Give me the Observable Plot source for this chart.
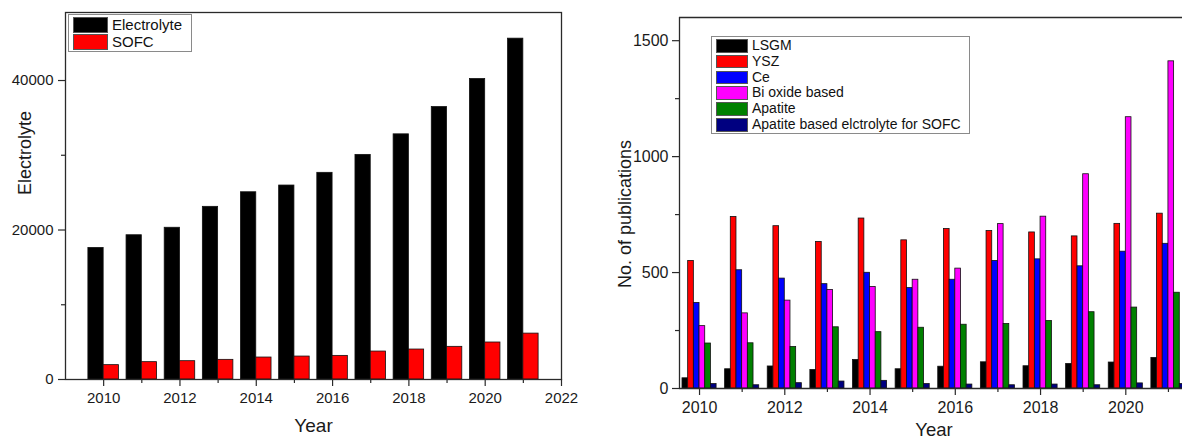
<!DOCTYPE html>
<html>
<head>
<meta charset="utf-8">
<script src="https://cdn.jsdelivr.net/npm/d3@7"></script>
<script src="https://cdn.jsdelivr.net/npm/@observablehq/plot@0.6"></script>
<style>
  html, body { margin: 0; padding: 0; background: #fff; }
  #wrap { position: relative; width: 1182px; height: 441px; overflow: hidden; background: #fff;
          font-family: "Liberation Sans", Arial, sans-serif; color: #111; }
  #left, #right { position: absolute; top: 0; }
  #left { left: 0; }
  #right { left: 600px; }
  .legend { position: absolute; border: 1px solid #8a8a8a; background: #fff; box-sizing: border-box; }
  .legend .row { position: absolute; display: flex; align-items: center; }
  .legend .sw { box-sizing: border-box; border: 1px solid #555; }
  .legend .lab { white-space: nowrap; color: #111; }
</style>
</head>
<body>
<div id="wrap">
  <div id="left"></div>
  <div id="right"></div>
</div>
<script>
// ---------- data ----------
const years = [2010, 2011, 2012, 2013, 2014, 2015, 2016, 2017, 2018, 2019, 2020, 2021];

// left panel
const leftSeries = ["Electrolyte", "SOFC"];
const leftColors = ["#000000", "#ff0000"];
const electrolyte = [17600, 19300, 20300, 23100, 25050, 25950, 27650, 30050, 32800, 36450, 40200, 45600];
const sofc = [1920, 2320, 2450, 2630, 2940, 3070, 3160, 3740, 4010, 4370, 4950, 6140];
const leftYTicks = [0, 20000, 40000];
const leftYMinor = [10000, 30000];
const leftXTicks = [2010, 2012, 2014, 2016, 2018, 2020, 2022];
const leftXMinor = [2011, 2013, 2015, 2017, 2019, 2021];
const leftXDomain = [2009, 2022];
const leftYDomain = [0, 49100];

// right panel
const rightSeries = ["LSGM", "YSZ", "Ce", "Bi oxide based", "Apatite", "Apatite based elctrolyte for SOFC"];
const rightColors = ["#000000", "#ff0000", "#0000ff", "#ff00ff", "#008000", "#000080"];
const lsgm = [44, 83, 95, 80, 123, 83, 94, 113, 96, 106, 112, 132];
const ysz = [550, 740, 700, 632, 733, 639, 688, 679, 673, 656, 710, 754];
const ce = [369, 510, 474, 450, 499, 433, 469, 550, 557, 527, 590, 624];
const bi = [269, 324, 379, 425, 438, 469, 517, 709, 741, 924, 1170, 1411];
const apatite = [194, 195, 179, 264, 243, 262, 275, 278, 291, 329, 349, 413];
const apatiteSofc = [19, 14, 23, 30, 33, 19, 17, 14, 17, 14, 22, 19];
const rightYTicks = [0, 500, 1000, 1500];
const rightYMinor = [250, 750, 1250];
const rightXTicks = [2010, 2012, 2014, 2016, 2018, 2020];
const rightXMinor = [2011, 2013, 2015, 2017, 2019, 2021];
const rightXDomain = [2009.53, 2021.33];
const rightYDomain = [0, 1600];

// ---------- build tables ----------
const groupWidth = 0.8;
function table(seriesNames, valueArrays) {
  const n = seriesNames.length, w = groupWidth / n;
  const rows = [];
  valueArrays.forEach((vals, k) => {
    vals.forEach((v, i) => {
      const x1 = years[i] - groupWidth / 2 + k * w;
      rows.push({year: years[i], series: seriesNames[k], value: v, x1, x2: x1 + w});
    });
  });
  return rows;
}
const leftData = table(leftSeries, [electrolyte, sofc]);
const rightData = table(rightSeries, [lsgm, ysz, ce, bi, apatite, apatiteSofc]);

const FONT = '"Liberation Sans", Arial, sans-serif';
const AX = "#2a2a2a";

// ---------- left chart ----------
const left = Plot.plot({
  width: 600, height: 441,
  marginLeft: 65, marginRight: 39, marginTop: 12, marginBottom: 62,
  style: {fontFamily: FONT, color: "#1a1a1a", background: "transparent", overflow: "visible"},
  x: {type: "linear", domain: leftXDomain},
  y: {domain: leftYDomain},
  color: {domain: leftSeries, range: leftColors},
  marks: [
    Plot.rectY(leftData, {x1: "x1", x2: "x2", y: "value", fill: "series", stroke: "#111", strokeWidth: 0.8}),
    Plot.frame({stroke: AX, strokeWidth: 1.3}),
    Plot.axisX({ticks: leftXTicks, tickSize: 7, tickPadding: 6, tickFormat: d => String(d), fontSize: 15, label: null, stroke: AX, strokeWidth: 1.2}),
    Plot.axisX({ticks: leftXMinor, tickSize: 4, tickFormat: () => "", label: null, stroke: AX, strokeWidth: 1.2}),
    Plot.axisY({ticks: leftYTicks, tickSize: 7, tickPadding: 5, tickFormat: d => String(d), fontSize: 15, label: null, stroke: AX, strokeWidth: 1.2}),
    Plot.axisY({ticks: leftYMinor, tickSize: 4, tickFormat: () => "", label: null, stroke: AX, strokeWidth: 1.2}),
    Plot.text(["Year"], {frameAnchor: "bottom", dy: 46, lineAnchor: "middle", textAnchor: "middle", fontSize: 19, fill: "#1a1a1a"}),
    Plot.text(["Electrolyte"], {frameAnchor: "left", dx: -40, dy: -43, rotate: -90, textAnchor: "middle", lineAnchor: "middle", fontSize: 18, fill: "#1a1a1a"})
  ]
});
document.getElementById("left").append(left);

// ---------- right chart ----------
const right = Plot.plot({
  width: 582, height: 441,
  marginLeft: 79, marginRight: 0, marginTop: 17, marginBottom: 53,
  style: {fontFamily: FONT, color: "#1a1a1a", background: "transparent", overflow: "visible"},
  x: {type: "linear", domain: rightXDomain},
  y: {domain: rightYDomain},
  color: {domain: rightSeries, range: rightColors},
  marks: [
    Plot.rectY(rightData, {x1: "x1", x2: "x2", y: "value", fill: "series", stroke: "#111", strokeWidth: 0.8, clip: true}),
    Plot.ruleX([rightXDomain[0]], {stroke: AX, strokeWidth: 1.3}),
    Plot.ruleY([rightYDomain[0]], {stroke: AX, strokeWidth: 1.3}),
    Plot.ruleY([rightYDomain[1]], {stroke: AX, strokeWidth: 1.3}),
    Plot.axisX({ticks: rightXTicks, tickSize: 7, tickPadding: 6, tickFormat: d => String(d), fontSize: 16, label: null, stroke: AX, strokeWidth: 1.2}),
    Plot.axisX({ticks: rightXMinor, tickSize: 4, tickFormat: () => "", label: null, stroke: AX, strokeWidth: 1.2}),
    Plot.axisY({ticks: rightYTicks, tickSize: 7, tickPadding: 4, tickFormat: d => String(d), fontSize: 16, label: null, stroke: AX, strokeWidth: 1.2}),
    Plot.axisY({ticks: rightYMinor, tickSize: 4, tickFormat: () => "", label: null, stroke: AX, strokeWidth: 1.2}),
    Plot.text(["Year"], {frameAnchor: "bottom", dy: 41.5, dx: 3, lineAnchor: "middle", textAnchor: "middle", fontSize: 18.5, fill: "#1a1a1a"}),
    Plot.text(["No. of publications"], {frameAnchor: "left", dx: -54, dy: 11, rotate: -90, textAnchor: "middle", lineAnchor: "middle", fontSize: 18, fill: "#1a1a1a"})
  ]
});
document.getElementById("right").append(right);

// ---------- legends (HTML) ----------
function legend(names, colors, box, sw, textLeft, pitch, fontSize) {
  const el = document.createElement("div");
  el.className = "legend";
  Object.assign(el.style, {left: box.x + "px", top: box.y + "px", width: box.w + "px", height: box.h + "px"});
  names.forEach((name, i) => {
    const row = document.createElement("div");
    row.className = "row";
    Object.assign(row.style, {left: (sw.x - box.x - 1) + "px", top: (sw.y - box.y - 1 + i * pitch) + "px", height: sw.h + "px"});
    const s = document.createElement("div");
    s.className = "sw";
    Object.assign(s.style, {width: sw.w + "px", height: sw.h + "px", background: colors[i]});
    const t = document.createElement("div");
    t.className = "lab";
    t.textContent = name;
    Object.assign(t.style, {marginLeft: (textLeft - sw.x - sw.w) + "px", fontSize: fontSize + "px", lineHeight: sw.h + "px"});
    row.append(s, t);
    el.append(row);
  });
  document.getElementById("wrap").append(el);
}
legend(leftSeries, leftColors, {x: 68, y: 14, w: 124, h: 38}, {x: 73, y: 16.5, w: 35, h: 16}, 112, 17.5, 15);
legend(rightSeries, rightColors, {x: 711, y: 36, w: 259, h: 98}, {x: 716, y: 39, w: 32, h: 13.5}, 752, 15.83, 14);
</script>
</body>
</html>
